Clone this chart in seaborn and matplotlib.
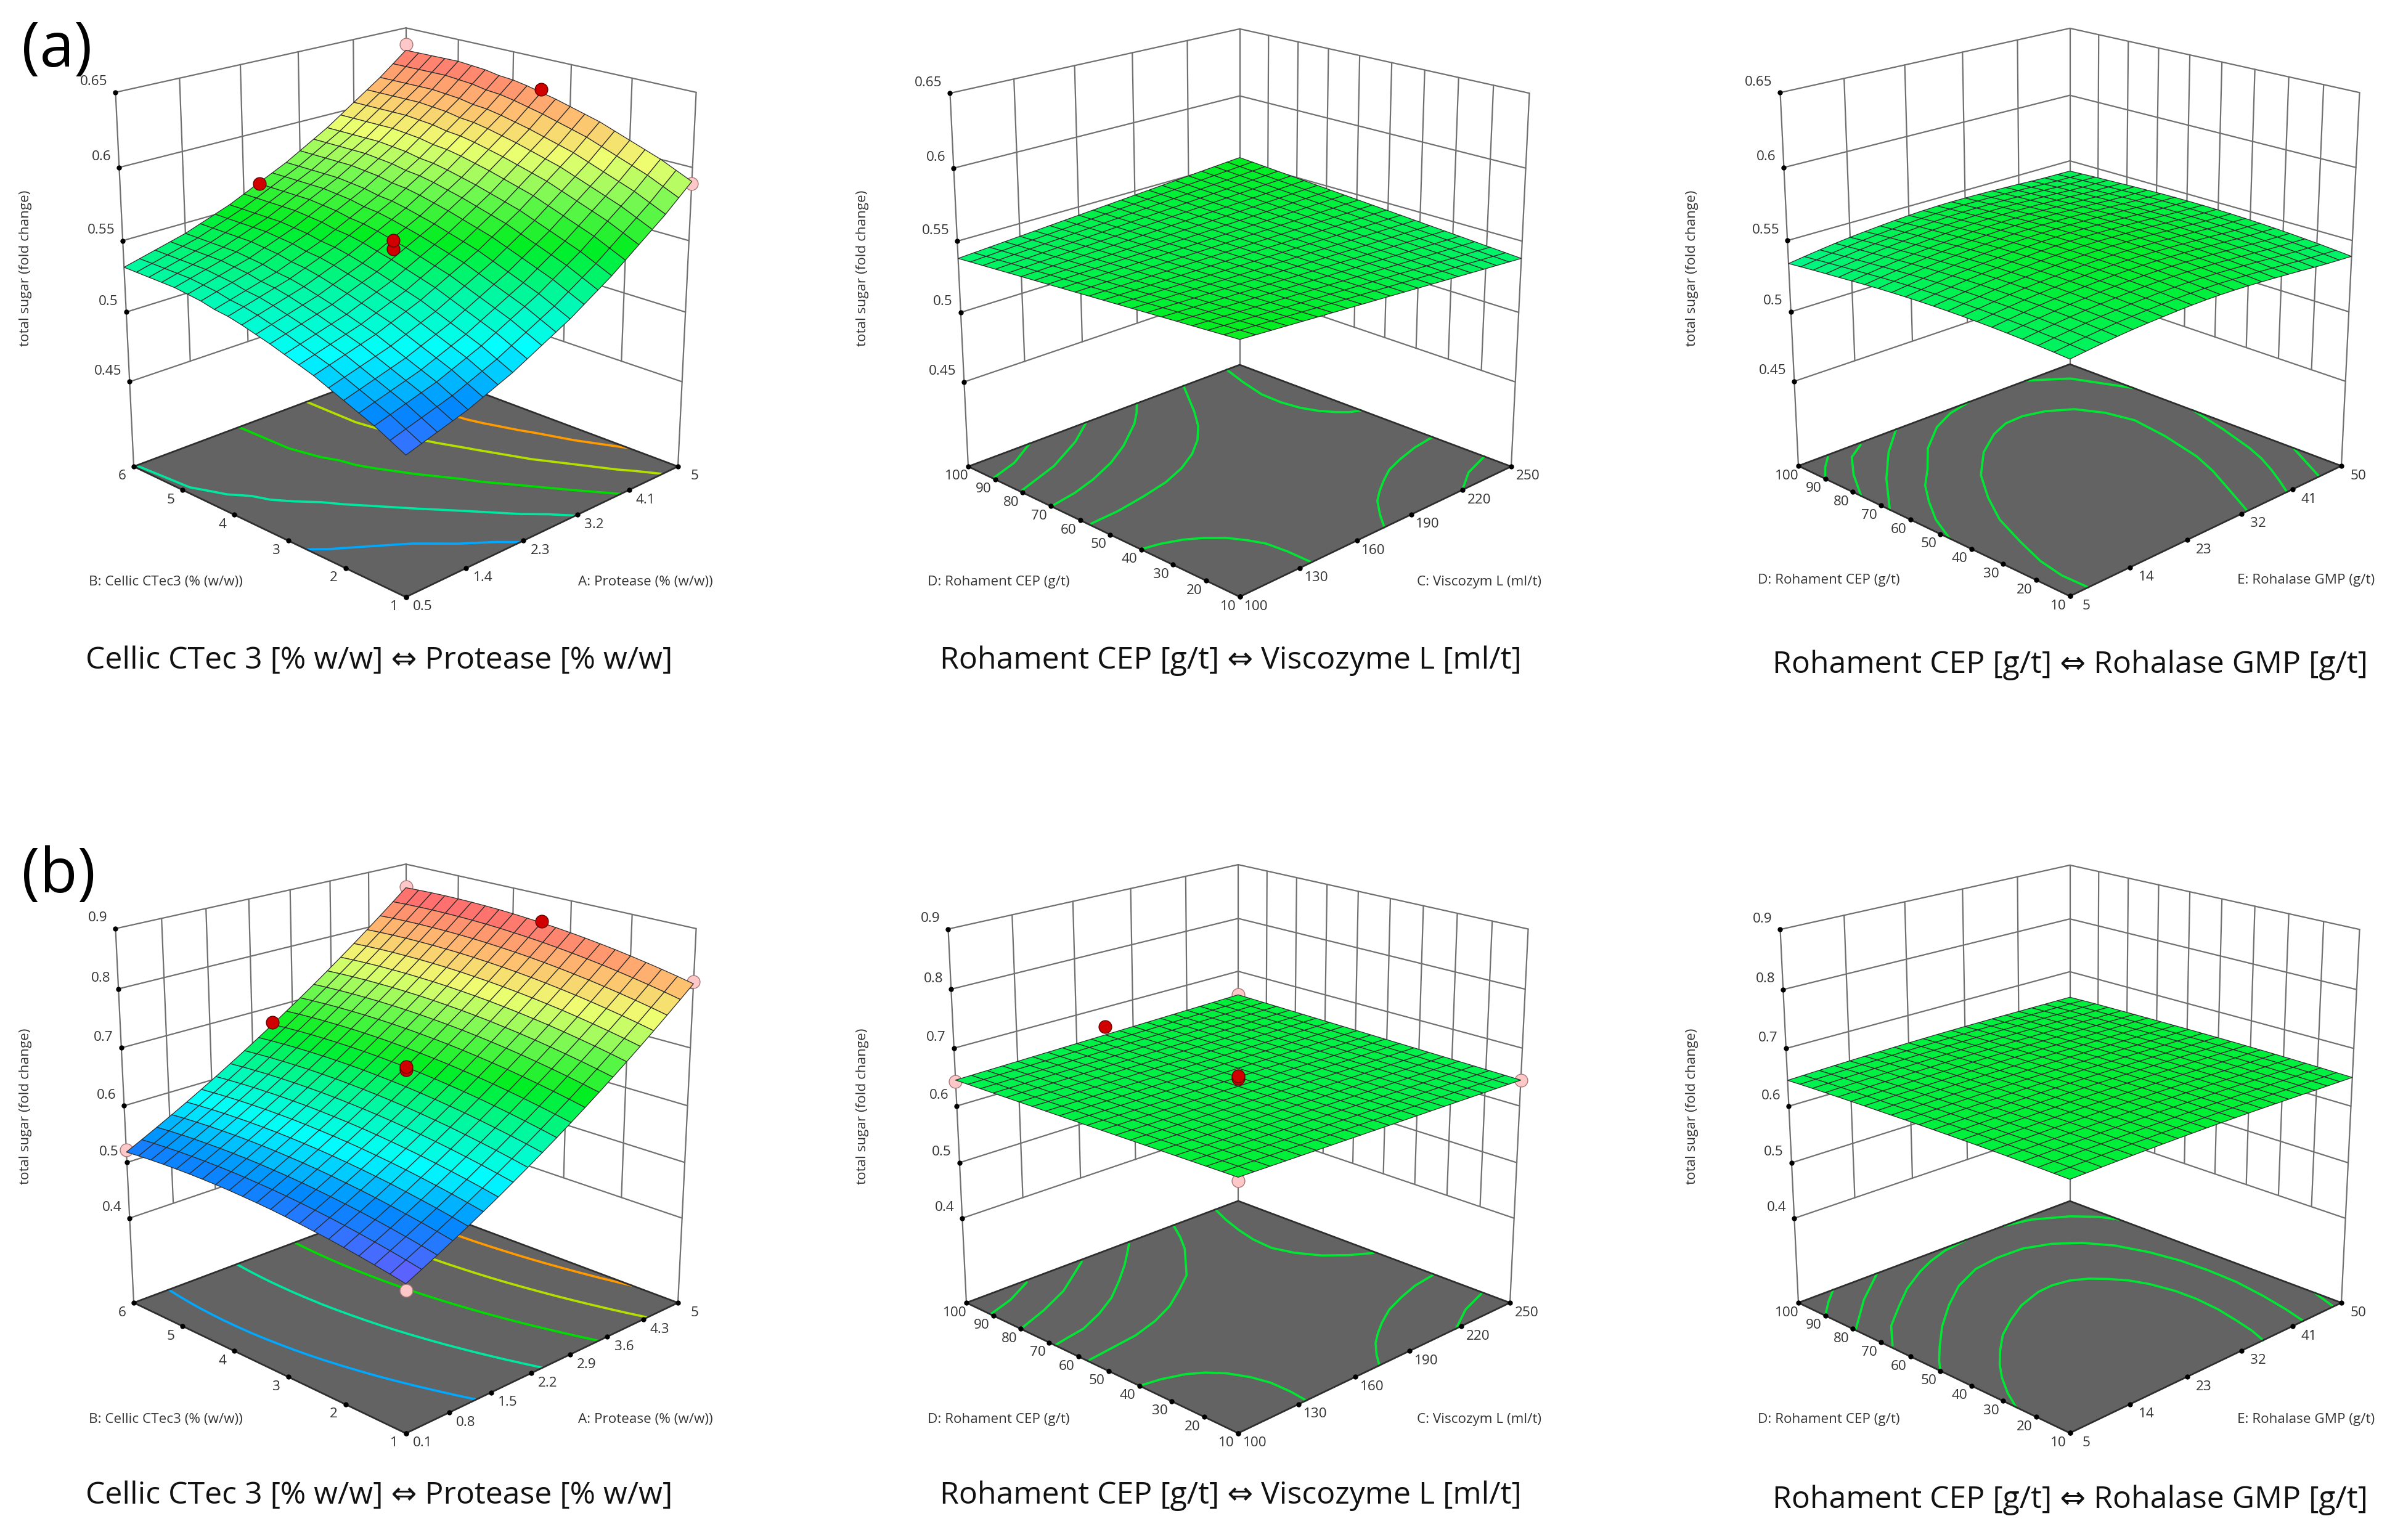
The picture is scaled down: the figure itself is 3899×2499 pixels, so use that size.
import matplotlib
matplotlib.use('Agg')
import numpy as np
import seaborn as sns
import matplotlib.pyplot as plt
from matplotlib.colors import Normalize
from mpl_toolkits.mplot3d import proj3d

sns.set_theme(style='white')
plt.rcParams['font.family'] = ['Open Sans', 'DejaVu Sans']

W, H = 3899, 2499

# axis ticks
protease_a = [0.5, 1.4, 2.3, 3.2, 4.1, 5]
protease_b = [0.1, 0.8, 1.5, 2.2, 2.9, 3.6, 4.3, 5]
cellic = [1, 2, 3, 4, 5, 6]
viscozym = [100, 130, 160, 190, 220, 250]
rohament = [10, 20, 30, 40, 50, 60, 70, 80, 90, 100]
rohalase = [5, 14, 23, 32, 41, 50]
z_ticks_a = [0.45, 0.5, 0.55, 0.6, 0.65]
z_ticks_b = [0.4, 0.5, 0.6, 0.7, 0.8, 0.9]

# surface heights read along the two front edges of each plot (21 mesh nodes).
# edge_x = height along the right front edge, edge_y = rise along the left one,
# twist = corner lift of the saddle. Inner nodes are the sum of these readings.
ramp = [-1, -.9, -.8, -.7, -.6, -.5, -.4, -.3, -.2, -.1, 0, .1, .2, .3, .4, .5, .6, .7, .8, .9, 1]

a1_edge_x = [.4825, .4855, .4885, .4915, .4945, .4985, .5025, .5065, .5115, .5165, .5215, .5265, .5325, .5385, .5445, .5515, .5585, .5655, .5725, .5805, .5885]
a1_edge_y = [0, .005, .010, .014, .018, .022, .026, .029, .032, .035, .0375, .040, .042, .043, .045, .046, .047, .047, .047, .047, .047]
a1_twist = -.002
a2_edge_x = [.5455] * 21
a2_edge_y = [0] * 21
a2_twist = .0075
a3_edge_x = [.5381, .5395, .5408, .542, .543, .5438, .5445, .5451, .5456, .5459, .546, .5459, .5456, .5452, .5447, .5441, .5435, .5428, .5422, .5418, .5414]
a3_edge_y = [0, .0008, .0015, .0021, .0026, .003, .0033, .0035, .0036, .0036, .0035, .0033, .003, .0026, .0021, .0015, .0009, .0003, -.0003, -.001, -.0017]
a3_twist = .0024
b1_edge_x = [.484, .4969, .5101, .5237, .5376, .552, .5667, .5819, .5974, .6133, .6295, .6462, .6632, .6806, .6983, .7165, .735, .754, .7733, .793, .813]
b1_edge_y = [0, .0054, .0104, .015, .0193, .0233, .0268, .03, .0329, .0354, .0375, .0392, .0407, .0418, .0424, .0428, .0427, .0424, .0416, .0405, .039]
b1_twist = .0045
b2_edge_x = [.650] * 21
b2_edge_y = [0] * 21
b2_twist = .005
b3_edge_x = [.65, .6507, .6514, .652, .6525, .653, .6534, .6538, .654, .6542, .6543, .6543, .6542, .654, .6538, .6535, .6532, .6529, .6526, .6523, .652]
b3_edge_y = [0, .0004, .0008, .0011, .0013, .0015, .0016, .0016, .0016, .0015, .0013, .0011, .0008, .0005, .0002, -.0002, -.0006, -.001, -.0015, -.0022, -.003]
b3_twist = .002

# contour lines on the floor (x factor, y factor)
a2_lines = [
    [(101, 91), (115, 94), (131, 100)],
    [(101, 81), (124, 86), (145, 93), (161, 100)],
    [(101, 70), (114, 71.5), (127, 74), (142, 78), (156, 83), (165, 87), (174, 91), (182, 95.5), (189, 100)],
    [(101, 57), (115, 57.5), (130, 59), (145, 61), (158, 64), (170, 68), (181, 73), (191, 79), (200, 86), (208, 93), (216, 100)],
    [(242, 100), (237, 91), (233, 82), (232.5, 75), (234, 69), (237, 64.5), (241, 61), (245, 58.5), (250, 57)],
    [(250, 34), (237, 33), (224, 31), (214, 29), (205, 26), (197, 23), (190, 20), (182, 15), (175, 10)],
    [(250, 18), (234, 15), (220, 10)],
    [(101, 40), (108, 39), (116, 37), (122, 34.5), (128, 31), (132, 27), (135, 23), (136, 17), (136, 10)],
]
b2_lines = [
    [(100, 91), (114, 94), (129, 99)],
    [(100, 80), (117, 84), (134, 89), (158, 99)],
    [(100, 68), (108, 69), (117, 70), (130, 73.5), (143, 78), (156, 84), (168, 90), (177, 95), (184, 99)],
    [(101, 57), (114, 58), (127, 59), (141, 61.5), (154, 65), (167, 70), (179, 75), (188, 81), (197, 87), (204, 93), (211, 100)],
    [(236, 100), (231, 93), (227, 86), (224, 79), (223, 72), (226, 66), (232, 60), (240, 55.5), (249, 52)],
    [(249, 33), (236, 32), (224, 30), (212, 27.5), (201, 24), (193, 21), (186, 18), (179, 14), (173, 10)],
    [(249, 18), (233, 15), (217, 10)],
    [(100, 40), (109, 39), (118, 37), (124, 34.5), (129, 31), (133, 26), (135, 21), (135, 15), (134, 10)],
]
a3_lines = [
    [(5, 90), (7, 95), (9, 99)],
    [(5, 77), (8, 87), (11, 95), (14, 99)],
    [(5, 67), (10, 80), (15, 91), (20, 100)],
    [(5, 47), (7, 56), (9.5, 64), (12, 71), (15, 77), (19, 86), (24, 94), (28, 98), (32, 100)],
    [(7.7, 10), (7.6, 17.6), (8.3, 25.5), (9.9, 35), (12, 46), (14.9, 56), (18.4, 66), (23, 75), (27.5, 81), (30.7, 83.7), (33.7, 84),
     (36.8, 82.2), (39.8, 78), (41.7, 71), (42.6, 62.6), (41.7, 50.7), (40, 37.5), (38.3, 29.5), (36.3, 22), (33.2, 10.5)],
    [(42, 100), (46.5, 93), (50, 77)],
    [(50, 56.4), (48.3, 44), (46.3, 32), (45, 26), (43.3, 20), (41.7, 15), (40, 10)],
    [(50, 24.5), (46, 10.5)],
]
b3_lines = [
    [(5, 90), (7.7, 95.5), (10.2, 100)],
    [(5, 79), (11, 90.5), (17, 100)],
    [(5.4, 67), (8.6, 75), (12.8, 82), (16.6, 88), (21, 93.4), (24, 96.3), (27.4, 98.7), (31.6, 100)],
    [(38, 100), (42, 98), (46.3, 92.5), (48.8, 87), (50, 82)],
    [(5, 50), (6.6, 54), (8.9, 59), (12.6, 66.5), (17, 74), (21.5, 80.5), (26.3, 85), (30.5, 86.3), (34.7, 86), (38.3, 83),
     (41.2, 78), (43.5, 71), (45, 62), (45.8, 53), (46, 44.6), (45.8, 35), (45, 25.5), (44, 17), (43, 10.3)],
    [(5, 26), (6.6, 32), (8.6, 38), (10.6, 43), (13, 48), (16, 53.5), (19.4, 58), (23, 62), (27, 64.6), (29.5, 65), (32, 64),
     (34, 61.5), (35.6, 58), (37, 54), (38, 49), (38.7, 42), (38.8, 35.5), (38.4, 28), (37.6, 21), (36.8, 15), (35.8, 10)],
    [(50, 18), (48.6, 10.5)],
]

# contour levels of the two tilted plots
a1_levels = [.51, .532, .555, .58, .605]
b1_levels = [.55, .62, .69, .76, .825]
level_colors = ['#00a8ff', '#00e8a0', '#00dc00', '#b4e000', '#ff9a00']

# design points (x factor, y factor, response)
a1_red = [(2.55, 6, .563), (5, 3.5, .628), (2.55, 3.5, .553), (2.55, 3.5, .547)]
a1_pink = [(5, 6, .638), (5, 1, .589)]
b1_red = [(2.55, 6, .672), (5, 3.5, .853), (2.55, 3.5, .668), (2.55, 3.5, .662)]
b1_pink = [(5, 6, .858), (5, 1, .812), (.1, 6, .522), (.1, 1, .478)]
b2_red = [(175, 100, .665), (175, 55, .652), (175, 55, .648)]
b2_pink = [(250, 100, .655), (100, 100, .643), (250, 10, .645), (100, 10, .65)]

rainbow = sns.blend_palette(['#6060ff', '#0088ff', '#00ffff', '#00f8a0', '#00ee20',
                             '#70f850', '#eeff70', '#ffb870', '#ff6e6e'], as_cmap=True)

fig = plt.figure(figsize=(W / 200, H / 200), dpi=200)


def to_px(ax, x, y, z):
    xp, yp, _ = proj3d.proj_transform(x, y, z, ax.get_proj())
    return ax.transData.transform((xp, yp))


def panel(xt, yt, zt, zfloor, edge_x, edge_y, twist, norm, left_px, right_px, floor_px,
          xname, yname, yname_x, xname_x, zname_x, lab_y, zlab_y, title, title_x, title_y,
          levels=None, lines=None, red=(), pink=()):
    ax = fig.add_axes([0, 0, 1000 / W, 1000 / H], projection='3d', computed_zorder=False)
    ax.set_axis_off()
    ax.view_init(elev=19.8, azim=-135)
    ax.set_proj_type('persp', focal_length=0.575)
    ax.set_box_aspect((1, 1, 1.0))
    x0, x1, y0, y1 = xt[0], xt[-1], yt[0], yt[-1]
    ztop = zt[-1]

    # back walls
    grid = dict(color='#707070', lw=0.8, zorder=1)
    for t in zt:
        ax.plot([x0, x1], [y1, y1], [t, t], **grid)
        ax.plot([x1, x1], [y0, y1], [t, t], **grid)
    for t in xt[1:-1]:
        ax.plot([t, t], [y1, y1], [zt[0], ztop], **grid)
    for t in yt[1:-1]:
        ax.plot([x1, x1], [t, t], [zt[0], ztop], **grid)
    ax.plot([x0, x0], [y1, y1], [zfloor, ztop], **grid)
    ax.plot([x1, x1], [y1, y1], [zfloor, ztop], **grid)
    ax.plot([x1, x1], [y0, y0], [zfloor, ztop], **grid)

    # floor
    fx, fy = np.meshgrid([x0, x1], [y0, y1])
    ax.plot_surface(fx, fy, np.full_like(fx, zfloor, dtype=float), color='#636363',
                    shade=False, linewidth=0, zorder=2)
    edge = dict(color='#2e2e2e', lw=1.0, zorder=4)
    ax.plot([x0, x1, x1, x0, x0], [y0, y0, y1, y1, y0], [zfloor] * 5, **edge)

    # surface
    X, Y = np.meshgrid(np.linspace(x0, x1, 21), np.linspace(y0, y1, 21))
    Z = np.add.outer(edge_y, edge_x) + twist * np.outer(ramp, ramp)
    if levels is not None:
        ax.contour(X, Y, Z, levels=levels, colors=level_colors, linewidths=1.3,
                   zdir='z', offset=zfloor, zorder=3)
    if lines is not None:
        for ln in lines:
            ax.plot([p[0] for p in ln], [p[1] for p in ln], [zfloor] * len(ln),
                    color='#00e632', lw=1.3, zorder=3)
    if pink:
        ax.scatter(*zip(*pink), s=56, c='#ffc8c8', edgecolors='#a87878', linewidths=0.5,
                   depthshade=False, zorder=5)
    surf = ax.plot_surface(X, Y, Z, facecolors=rainbow(norm(Z)), shade=False,
                           rstride=1, cstride=1, linewidth=0.45, zorder=6)
    surf.set_edgecolor('#2c2c2c')
    if red:
        ax.scatter(*zip(*red), s=56, c='#d00000', edgecolors='#600000', linewidths=0.5,
                   depthshade=False, zorder=7)

    # tick dots
    ticks = dict(s=9, c='black', depthshade=False, linewidths=0, zorder=8)
    ax.scatter(xt, [y0] * len(xt), [zfloor] * len(xt), **ticks)
    ax.scatter([x0] * len(yt), yt, [zfloor] * len(yt), **ticks)
    ax.scatter([x0] * len(zt), [y1] * len(zt), zt, **ticks)

    ax.set_xlim(x0, x1, view_margin=0)
    ax.set_ylim(y0, y1, view_margin=0)
    ax.set_zlim(zfloor, ztop, view_margin=0)

    # fit the box onto the picture: left and right floor corners
    p = [to_px(ax, x0, y1, zfloor), to_px(ax, x1, y0, zfloor)]
    S = 1000 * (right_px - left_px) / (p[1][0] - p[0][0])
    ax.set_position([0, 0, S / W, S / H])
    p = to_px(ax, x0, y1, zfloor)
    ax.set_position([(left_px - p[0]) / W, (H - floor_px - p[1]) / H, S / W, S / H])

    small = dict(fontsize=8.1, color='#333333', va='center')
    for t in xt:
        q = to_px(ax, t, y0, zfloor)
        fig.text((q[0] + 27) / W, (q[1] - 16) / H, f'{t:g}', ha='center', **small)
    for t in yt:
        q = to_px(ax, x0, t, zfloor)
        fig.text((q[0] - 19) / W, (q[1] - 16) / H, f'{t:g}', ha='center', **small)
    for t in zt:
        q = to_px(ax, x0, y1, t)
        fig.text((q[0] - 13) / W, (q[1] + 17) / H, f'{t:g}', ha='right', **small)
    fig.text(yname_x / W, 1 - lab_y / H, yname, ha='center', **small)
    fig.text(xname_x / W, 1 - lab_y / H, xname, ha='center', **small)
    fig.text(zname_x / W, 1 - zlab_y / H, 'total sugar (fold change)', rotation=90,
             ha='center', **small)
    fig.text(title_x / W, 1 - title_y / H, title, fontsize=18, color='#111111',
             ha='center', va='center')


norm_a = Normalize(.47, .632)
norm_b = Normalize(.485, .84)
flat_y = 'D: Rohament CEP (g/t)'
cellic_y = 'B: Cellic CTec3 (% (w/w))'
prot_x = 'A: Protease (% (w/w))'
t1 = 'Cellic CTec 3 [% w/w] ⇔ Protease [% w/w]'
t2 = 'Rohament CEP [g/t] ⇔ Viscozyme L [ml/t]'
t3 = 'Rohament CEP [g/t] ⇔ Rohalase GMP [g/t]'

panel(protease_a, cellic, z_ticks_a, .3875, a1_edge_x, a1_edge_y, a1_twist, norm_a, 217, 1100, 757,
      prot_x, cellic_y, 269, 1047, 42, 944, 435, t1, 615, 1072,
      levels=a1_levels, red=a1_red, pink=a1_pink)
panel(viscozym, rohament, z_ticks_a, .3875, a2_edge_x, a2_edge_y, a2_twist, norm_a, 1571, 2452, 757,
      'C: Viscozym L (ml/t)', flat_y, 1620, 2400, 1400, 944, 435, t2, 1997, 1072, lines=a2_lines)
panel(rohalase, rohament, z_ticks_a, .3875, a3_edge_x, a3_edge_y, a3_twist, norm_a, 2918, 3799, 756,
      'E: Rohalase GMP (g/t)', flat_y, 2967, 3742, 2745, 942, 435, t3, 3359, 1079, lines=a3_lines)
panel(protease_b, cellic, z_ticks_b, .244, b1_edge_x, b1_edge_y, b1_twist, norm_b, 217, 1100, 2114,
      prot_x, cellic_y, 269, 1047, 42, 2303, 1795, t1, 615, 2427,
      levels=b1_levels, red=b1_red, pink=b1_pink)
panel(viscozym, rohament, z_ticks_b, .244, b2_edge_x, b2_edge_y, b2_twist, norm_b, 1568, 2450, 2114,
      'C: Viscozym L (ml/t)', flat_y, 1620, 2400, 1400, 2303, 1795, t2, 1997, 2427,
      lines=b2_lines, red=b2_red, pink=b2_pink)
panel(rohalase, rohament, z_ticks_b, .244, b3_edge_x, b3_edge_y, b3_twist, norm_b, 2918, 3799, 2114,
      'E: Rohalase GMP (g/t)', flat_y, 2967, 3742, 2745, 2303, 1795, t3, 3359, 2434, lines=b3_lines)

fig.text(35 / W, 1 - 82 / H, '(a)', fontsize=36, color='black', ha='left', va='center')
fig.text(35 / W, 1 - 1422 / H, '(b)', fontsize=36, color='black', ha='left', va='center')

fig.savefig('out.png', dpi=200, facecolor='white')
